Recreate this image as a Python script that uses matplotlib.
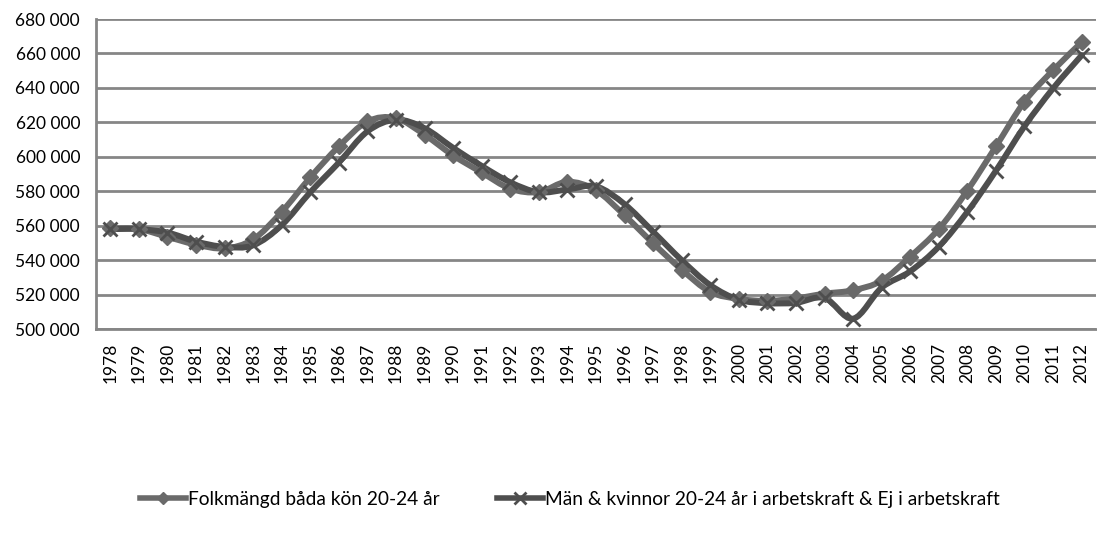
import numpy as np
import matplotlib.pyplot as plt
from matplotlib.path import Path
from matplotlib.patches import PathPatch
from matplotlib.lines import Line2D

# data
years = list(range(1978, 2013))
folkmangd = [558500, 558000, 553500, 549000, 546800, 552000, 568000, 588000, 606000, 620500,
             622400, 612800, 600800, 590900, 581500, 579500, 585500, 580500, 566000, 549800,
             534500, 521500, 517500, 516300, 517800, 520500, 522500, 528000, 542000, 558000,
             580400, 606000, 632000, 650200, 666500]
arbetskraft = [558000, 558000, 556000, 550800, 547700, 548600, 560300, 579400, 596600, 614700,
               621500, 616600, 605200, 594700, 585200, 579400, 581000, 582800, 572500, 556500,
               540000, 525500, 517000, 515000, 515200, 518000, 506000, 524000, 533500, 547800,
               568000, 591900, 617700, 639700, 658900]
labels = ["Folkmängd båda kön 20-24 år",
          "Män & kvinnor 20-24 år i arbetskraft & Ej i arbetskraft"]
yticks = list(range(500000, 680001, 20000))

col1 = "#6a6a6a"
col2 = "#4e4e4e"
grid_col = "#868686"

plt.rcParams['font.family'] = ['Lato', 'DejaVu Sans']


def smooth_path(x, y):
    # Excel-style smoothed line: bezier segments through the points
    x = np.asarray(x, float)
    y = np.asarray(y, float)
    n = len(x)
    verts = [(x[0], y[0])]
    codes = [Path.MOVETO]
    for i in range(n - 1):
        i0 = max(i - 1, 0)
        i3 = min(i + 2, n - 1)
        c1 = (x[i] + (x[i + 1] - x[i0]) / 6, y[i] + (y[i + 1] - y[i0]) / 6)
        c2 = (x[i + 1] - (x[i3] - x[i]) / 6, y[i + 1] - (y[i3] - y[i]) / 6)
        verts += [c1, c2, (x[i + 1], y[i + 1])]
        codes += [Path.CURVE4] * 3
    return Path(verts, codes)


fig = plt.figure(figsize=(10.97, 5.40), dpi=100)
ax = fig.add_axes([96 / 1097, 1 - 329 / 540, 1 - 96 / 1097 - 0.001, (329 - 19) / 540])

xs = np.arange(len(years))

ax.add_patch(PathPatch(smooth_path(xs, folkmangd), fill=False, edgecolor=col1, lw=4.3,
                       capstyle='round', joinstyle='round', zorder=3))
ax.add_patch(PathPatch(smooth_path(xs, arbetskraft), fill=False, edgecolor=col2, lw=4.3,
                       capstyle='round', joinstyle='round', zorder=4))
ax.plot(xs, folkmangd, ls='none', marker='D', ms=8.5, color=col1, mec=col1, zorder=5)
ax.plot(xs, arbetskraft, ls='none', marker='x', ms=10, mew=2, color=col2, zorder=6)

ax.set_xlim(-0.5, len(years) - 0.5)
ax.set_ylim(500000, 680000)
ax.set_yticks(yticks)
ax.set_yticklabels([f"{v:,}".replace(",", " ") for v in yticks], fontsize=12.5)
ax.set_xticks(xs)
ax.set_xticklabels([str(y) for y in years], rotation=90, fontsize=12.5)
ax.tick_params(axis='y', length=0, pad=11.5)
ax.tick_params(axis='x', length=0, pad=10)
ax.yaxis.grid(True, color=grid_col, lw=2)
ax.set_axisbelow(True)
for s in ['top', 'right']:
    ax.spines[s].set_visible(False)
for s in ['left', 'bottom']:
    ax.spines[s].set_color(grid_col)
    ax.spines[s].set_linewidth(2)

handles = [Line2D([], [], color=col1, lw=4, marker='D', ms=6),
           Line2D([], [], color=col2, lw=4, marker='x', ms=8, mew=2)]
fig.legend(handles, labels, loc='center', bbox_to_anchor=(570 / 1097, 1 - 499 / 540), ncol=2,
           frameon=False, fontsize=13.8, handlelength=2.4, handletextpad=0.1, columnspacing=3,
           borderpad=0, borderaxespad=0)

fig.savefig("out.png", dpi=100)
